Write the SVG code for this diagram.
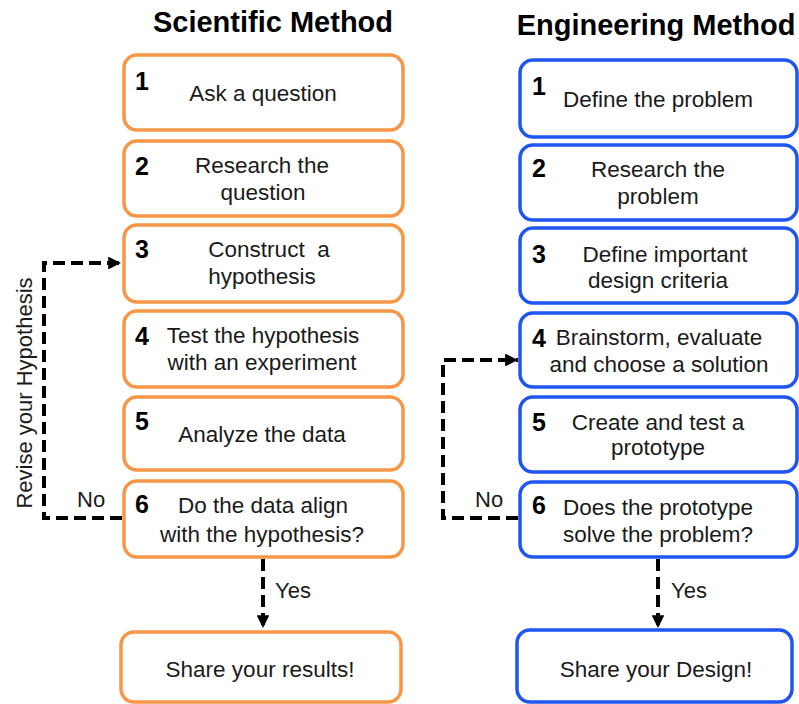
<svg xmlns="http://www.w3.org/2000/svg" width="799" height="704" viewBox="0 0 799 704">
<defs>
<style>
.bg{fill:#ffffff}
.title{font-family:"Liberation Sans",Arial,sans-serif;font-weight:bold;font-size:29px;fill:#000;text-anchor:middle}
.sci rect{fill:#fff;stroke:#F79646;stroke-width:3.5}
.eng rect{fill:#fff;stroke:#1F55F0;stroke-width:3.5}
.num{font-family:"Liberation Sans",Arial,sans-serif;font-weight:bold;font-size:25px;fill:#000}
.txt{font-family:"Liberation Sans",Arial,sans-serif;font-size:22.5px;fill:#1a1a1a;text-anchor:middle}
.lbl{font-family:"Liberation Sans",Arial,sans-serif;font-size:22px;fill:#1a1a1a}
.dash{fill:none;stroke:#000;stroke-width:4;stroke-dasharray:12 6}
</style>
<marker id="arr" viewBox="0 0 10 10" refX="10" refY="5" markerWidth="3.2" markerHeight="3.2" orient="auto" markerUnits="strokeWidth">
<path d="M0,0 L10,5 L0,10 Z" fill="#000"/>
</marker>
</defs>
<rect class="bg" x="0" y="0" width="799" height="704"/>
<text class="title" x="273" y="32">Scientific Method</text>
<text class="title" x="656" y="35">Engineering Method</text>

<g class="sci">
<g id="s1"><rect x="124" y="55" width="279" height="75" rx="13"/><text class="num" x="135" y="90">1</text><text class="txt" x="263" y="101">Ask a question</text></g>
<g id="s2"><rect x="124" y="141" width="279" height="75" rx="13"/><text class="num" x="135" y="175">2</text><text class="txt" x="262" y="173">Research the</text><text class="txt" x="263" y="200">question</text></g>
<g id="s3"><rect x="124" y="225" width="279" height="77" rx="13"/><text class="num" x="135" y="258">3</text><text class="txt" x="269" y="257" xml:space="preserve">Construct  a</text><text class="txt" x="262" y="284">hypothesis</text></g>
<g id="s4"><rect x="124" y="311" width="279" height="76" rx="13"/><text class="num" x="135" y="345">4</text><text class="txt" x="263" y="343">Test the hypothesis</text><text class="txt" x="262" y="370">with an experiment</text></g>
<g id="s5"><rect x="124" y="397" width="279" height="73" rx="13"/><text class="num" x="135" y="430">5</text><text class="txt" x="262" y="442">Analyze the data</text></g>
<g id="s6"><rect x="124" y="481" width="279" height="76" rx="13"/><text class="num" x="135" y="513">6</text><text class="txt" x="263" y="513">Do the data align</text><text class="txt" x="262" y="542">with the hypothesis?</text></g>
<g id="s7"><rect x="121" y="632" width="280" height="70" rx="13"/><text class="txt" x="260" y="677">Share your results!</text></g>
</g>

<g class="eng">
<g id="e1"><rect x="520" y="60" width="277" height="77" rx="13"/><text class="num" x="532" y="95">1</text><text class="txt" x="658" y="107">Define the problem</text></g>
<g id="e2"><rect x="520" y="145" width="277" height="75" rx="13"/><text class="num" x="532" y="177">2</text><text class="txt" x="658" y="177">Research the</text><text class="txt" x="658" y="204">problem</text></g>
<g id="e3"><rect x="520" y="228" width="277" height="75" rx="13"/><text class="num" x="532" y="263">3</text><text class="txt" x="665" y="262">Define important</text><text class="txt" x="658" y="288">design criteria</text></g>
<g id="e4"><rect x="520" y="313" width="277" height="74" rx="13"/><text class="num" x="532" y="347">4</text><text class="txt" x="659" y="345">Brainstorm, evaluate</text><text class="txt" x="659" y="372">and choose a solution</text></g>
<g id="e5"><rect x="520" y="397" width="277" height="75" rx="13"/><text class="num" x="532" y="431">5</text><text class="txt" x="658" y="430">Create and test a</text><text class="txt" x="658" y="455">prototype</text></g>
<g id="e6"><rect x="520" y="482" width="277" height="75" rx="13"/><text class="num" x="532" y="514">6</text><text class="txt" x="658" y="515">Does the prototype</text><text class="txt" x="658" y="542">solve the problem?</text></g>
<g id="e7"><rect x="517" y="630" width="275" height="72" rx="13"/><text class="txt" x="656" y="677">Share your Design!</text></g>
</g>

<g id="connectors">
<path class="dash" d="M122,518 H44 V263 H121" marker-end="url(#arr)"/>
<path class="dash" d="M263,559 V628" marker-end="url(#arr)"/>
<path class="dash" d="M518,518 H443 V360 H518" marker-end="url(#arr)"/>
<path class="dash" d="M658,559 V628" marker-end="url(#arr)"/>
<text class="lbl" x="77" y="507">No</text>
<text class="lbl" x="475" y="507">No</text>
<text class="lbl" x="275" y="598">Yes</text>
<text class="lbl" x="671" y="598">Yes</text>
<text class="lbl" x="32" y="393" text-anchor="middle" font-size="23" transform="rotate(-90 32 393)">Revise your Hypothesis</text>
</g>
</svg>
